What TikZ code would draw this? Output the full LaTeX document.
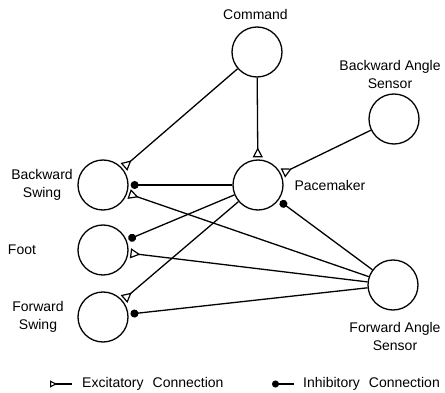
\documentclass[tikz,border=0pt]{standalone}
\usepackage{fontspec}
\setmainfont{Liberation Sans}
\usetikzlibrary{arrows.meta}
\begin{document}
\begin{tikzpicture}[x=1pt,y=-1pt,
  neuron/.style={circle,draw,line width=1.3pt,minimum size=50pt,inner sep=0pt},
  lbl/.style={font=\fontsize{14}{18}\selectfont,inner sep=0pt,align=center},
  conn/.style={line width=1.3pt},
  exc/.style={conn,-{Triangle[open,reversed,length=10pt,width=10pt,line width=1.2pt,sep=2pt]}},
  inh/.style={conn,-{Circle[length=8pt,sep=2pt]}},
  excleg/.style={conn,-{Triangle[open,reversed,length=7pt,width=7pt,line width=1.1pt]}},
  inhleg/.style={conn,-{Circle[length=7pt]}}]
\useasboundingbox (0,0) rectangle (445,393);
% neurons
\node[neuron] (cmd) at (257,52) {};
\node[neuron] (bas) at (394,119) {};
\node[neuron] (pm) at (258,185) {};
\node[neuron] (bs) at (103,185) {};
\node[neuron] (foot) at (103,250) {};
\node[neuron] (fs) at (103,317) {};
\node[neuron] (fas) at (393,285) {};
% labels
\node[lbl] (cmdl) at (255.5,14) {Command};
\node[lbl] (basl) at (390,74) {Backward Angle\\Sensor};
\node[lbl] (pml) at (330,185) {Pacemaker};
\node[lbl] (bsl) at (42,185) {Backward\\Swing};
\node[lbl] (footl) at (22,250) {Foot};
\node[lbl] (fsl) at (38,317) {Forward\\Swing};
\node[lbl] (fasl) at (395,336) {Forward Angle\\Sensor};
% connections
\draw[exc] (cmd) -- (bs);
\draw[exc] (cmd) -- (pm);
\draw[exc] (bas) -- (pm);
\draw[inh] (pm) -- (bs);
\draw[exc] (fas) -- (bs);
\draw[inh] (pm) -- (foot);
\draw[exc] (fas) -- (foot);
\draw[exc] (pm) -- (fs);
\draw[inh] (fas) -- (fs);
\draw[inh] (fas) -- (pm);
% legend
\coordinate (e1) at (50,384);
\coordinate (e2) at (72,384);
\draw[excleg] (e2) -- (e1);
\node[lbl,anchor=west] (exl) at (82,384) {Excitatory\hspace{9pt}Connection};
\coordinate (i1) at (272,384);
\coordinate (i2) at (294,384);
\draw[inhleg] (i2) -- (i1);
\node[lbl,anchor=west] (inl) at (303,384) {Inhibitory\hspace{9pt}Connection};
\end{tikzpicture}
\end{document}
